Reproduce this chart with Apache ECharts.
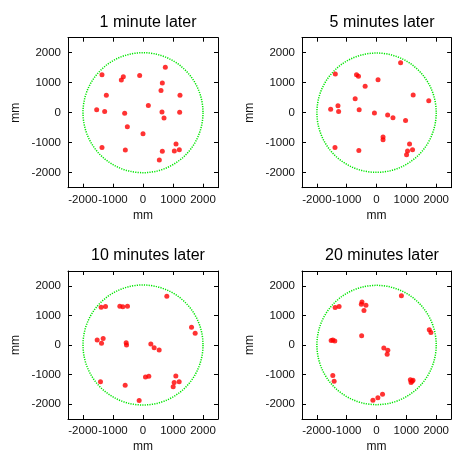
<!DOCTYPE html>
<html><head><meta charset="utf-8">
<script src="https://cdn.jsdelivr.net/npm/echarts@6/dist/echarts.min.js"></script>
<style>html,body{margin:0;padding:0;background:#fff}#c{width:452px;height:454px}</style>
</head><body><div id="c"></div>
<script>
var titles = ['1 minute later', '5 minutes later', '10 minutes later', '20 minutes later'];
var tickLabels = [-2000, -1000, 0, 1000, 2000];
var circleRadius = 2000;

var points1 = [[-1367,1267],[-656,1200],[-722,1089],[-111,1244],[744,1511],[644,989],[600,744],[-1222,578],[1233,578],[178,244],[-1544,100],[-1278,44],[-611,-22],[633,22],[1222,11],[700,-178],[-522,-467],[0,-700],[-1367,-1156],[-589,-1244],[1100,-1044],[1044,-1278],[1211,-1233],[644,-1289],[544,-1578]];
var points5 = [[806,1667],[-1383,1289],[-672,1267],[-606,1211],[50,1100],[-383,878],[-717,467],[1228,589],[1750,400],[-1539,111],[-1294,233],[-1272,44],[-583,100],[-72,-11],[372,-78],[550,-167],[972,-256],[217,-811],[217,-900],[-1394,-1156],[-594,-1256],[1106,-1044],[1039,-1278],[1206,-1233],[1006,-1400]];
var points10 = [[794,1644],[-1394,1278],[-1250,1300],[-772,1311],[-672,1289],[-517,1311],[1617,600],[1739,400],[-1528,167],[-1328,222],[-1383,56],[-561,78],[-550,0],[261,33],[372,-89],[539,-167],[83,-1078],[194,-1056],[1094,-1044],[1039,-1267],[1206,-1244],[1006,-1411],[-1417,-1244],[-594,-1356],[-128,-1878]];
var points20 = [[833,1667],[-1389,1267],[-1256,1300],[-489,1456],[-511,1378],[-356,1344],[-422,1167],[-500,311],[1767,511],[1822,422],[-1522,156],[-1467,167],[-1400,133],[244,-100],[378,-178],[356,-311],[-1467,-1033],[-1422,-1222],[1133,-1178],[1189,-1222],[1156,-1267],[1222,-1189],[200,-1667],[44,-1778],[-122,-1867]];
var allPoints = [points1, points5, points10, points20];

var FONT = '"Liberation Sans", Arial, Helvetica, sans-serif';
var layout = [
  {left: 68, top: 37.7},
  {left: 302, top: 37.7},
  {left: 68, top: 271},
  {left: 302, top: 271}
];
var SIZE = 150;

var grids = [], xAxes = [], yAxes = [], series = [], titleOpts = [];
layout.forEach(function (g, i) {
  grids.push({left: g.left, top: g.top, width: SIZE, height: SIZE, containLabel: false});
  titleOpts.push({
    text: titles[i], left: g.left + SIZE / 2, top: g.top - 28, textAlign: 'center',
    textStyle: {fontFamily: FONT, fontSize: 16, fontWeight: 'normal', color: '#000'}
  });
  function base() {
    return {
      gridIndex: i, type: 'value', min: -2500, max: 2500,
      splitLine: {show: false},
      axisLine: {show: true, onZero: false, lineStyle: {color: '#000', width: 1}},
      axisTick: {show: true, inside: true, length: 4, customValues: tickLabels, lineStyle: {color: '#000'}},
      axisLabel: {
        fontFamily: FONT, fontSize: 11.5, color: '#111', interval: 0,
        customValues: tickLabels, hideOverlap: false,
        showMinLabel: true, showMaxLabel: true,
        formatter: function (v) { return String(v); }
      }
    };
  }
  var xb = base();
  xb.position = 'bottom'; xb.name = 'mm'; xb.nameLocation = 'middle'; xb.nameGap = 22;
  xb.nameTextStyle = {fontFamily: FONT, fontSize: 12, color: '#111'};
  xb.axisLabel.margin = 6;
  xAxes.push(xb);
  var xt = base();
  xt.position = 'top'; xt.axisLabel = {show: false};
  xAxes.push(xt);
  var yl = base();
  yl.position = 'left'; yl.name = 'mm'; yl.nameLocation = 'middle'; yl.nameGap = 46;
  yl.nameTextStyle = {fontFamily: FONT, fontSize: 12, color: '#111'};
  yl.axisLabel.margin = 7;
  yAxes.push(yl);
  var yr = base();
  yr.position = 'right'; yr.axisLabel = {show: false};
  yAxes.push(yr);

  series.push({
    type: 'custom', xAxisIndex: 2 * i, yAxisIndex: 2 * i, silent: true, clip: false, z: 1,
    data: [[0, 0, circleRadius]],
    encode: {x: 0, y: 1},
    renderItem: function (params, api) {
      var c = api.coord([api.value(0), api.value(1)]);
      var r = api.size([api.value(2), 0])[0];
      return {
        type: 'circle',
        shape: {cx: c[0], cy: c[1], r: r},
        style: {fill: null, stroke: '#00e600', lineWidth: 1.5, lineDash: [1.2, 1.2]}
      };
    }
  });
  series.push({
    type: 'scatter', xAxisIndex: 2 * i, yAxisIndex: 2 * i, z: 3,
    data: allPoints[i], symbol: 'circle', symbolSize: 5,
    itemStyle: {color: '#ff0000'}
  });
});

var chart = echarts.init(document.getElementById('c'), null, {renderer: 'canvas'});
chart.setOption({
  animation: false,
  backgroundColor: '#fff',
  title: titleOpts,
  grid: grids,
  xAxis: xAxes,
  yAxis: yAxes,
  series: series
});
</script>
</body></html>
